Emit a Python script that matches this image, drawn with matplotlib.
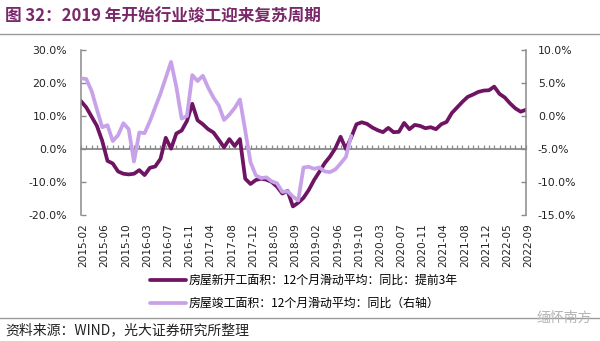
import matplotlib
matplotlib.use('Agg')
import matplotlib.pyplot as plt
import matplotlib.transforms as mtransforms
from matplotlib.lines import Line2D

plt.rcParams['font.family'] = ['Noto Sans CJK SC', 'DejaVu Sans']

# ---------------- data ----------------
# monthly categories (Jan is merged into Feb in the source statistics)
categories = []
for y in range(2015, 2023):
    for m in range(2, 13):
        if y == 2022 and m > 9:
            break
        categories.append(f'{y}-{m:02d}')

tick_labels = ['2015-02', '2015-06', '2015-10', '2016-03', '2016-07', '2016-11',
               '2017-04', '2017-08', '2017-12', '2018-05', '2018-09', '2019-02',
               '2019-06', '2019-10', '2020-03', '2020-07', '2020-11', '2021-04',
               '2021-08', '2021-12', '2022-05', '2022-09']

# 房屋新开工面积：12个月滑动平均：同比：提前3年 (left axis, %)
new_starts = [14.5, 12.6, 9.8, 7.0, 2.5, -3.6, -4.4, -6.8, -7.5, -7.7,
              -7.5, -6.4, -7.9, -5.7, -5.3, -3.0, 3.4, 0.1, 4.7, 5.6,
              8.5, 13.7, 8.7, 7.5, 6.0, 5.0, 2.8, 0.5, 3.0, 0.9,
              3.0, -9.0, -10.6, -9.4, -9.0, -9.3, -10.0, -11.4, -13.5, -12.7,
              -17.4, -16.3, -14.8, -12.4, -9.4, -6.9, -4.3, -2.3, 0.2, 3.7,
              0.0, 3.5, 7.5, 8.1, 7.6, 6.5, 5.7, 5.1, 6.4, 5.1,
              5.2, 7.9, 6.0, 7.3, 7.0, 6.3, 6.6, 6.0, 7.5, 8.2,
              10.9, 12.6, 14.3, 15.8, 16.5, 17.3, 17.7, 17.8, 18.9, 16.7,
              15.6, 13.8, 12.3, 11.3, 11.9]

# 房屋竣工面积：12个月滑动平均：同比 (right axis, %)
completions = [5.7, 5.6, 3.8, 1.0, -1.7, -1.4, -3.8, -2.9, -1.1, -2.0,
               -6.9, -2.5, -2.6, -0.8, 1.3, 3.4, 5.8, 8.2, 4.4, -0.4,
               0.0, 6.2, 5.3, 6.1, 4.3, 2.8, 1.6, -0.6, 0.2, 1.2,
               2.5, -2.2, -7.0, -9.0, -9.4, -9.3, -9.9, -10.2, -11.5, -11.4,
               -12.2, -12.8, -7.8, -7.7, -8.0, -7.8, -8.4, -8.5, -8.1, -7.2,
               -6.2, -3.0]

left_ticks = [-20, -10, 0, 10, 20, 30]
right_ticks = [-15, -10, -5, 0, 5, 10]

label_new = '房屋新开工面积：12个月滑动平均：同比：提前3年'
label_comp = '房屋竣工面积：12个月滑动平均：同比（右轴）'
title = '图 32：2019 年开始行业竣工迎来复苏周期'
source = '资料来源：WIND，光大证券研究所整理'

# ---------------- style ----------------
DARK = '#6E1463'
LIGHT = '#C8A2E8'
GRAY = '#8A8A8A'
TITLE_C = '#7A2869'

W, H = 600, 341
fig = plt.figure(figsize=(W / 100, H / 100), dpi=100)

ax = fig.add_axes([81 / W, 1 - 215 / H, (526 - 81) / W, (215 - 50) / H])
ax2 = ax.twinx()

x_new = list(range(len(new_starts)))
x_comp = list(range(len(completions)))

l1, = ax.plot(x_new, new_starts, color=DARK, lw=2.7, solid_joinstyle='round',
              solid_capstyle='round')
l2, = ax2.plot(x_comp, completions, color=LIGHT, lw=2.7, solid_joinstyle='round',
               solid_capstyle='round')

ax.set_xlim(0, len(categories) - 1)
ax.set_ylim(-20, 30)
ax2.set_ylim(-15, 10)

ax.set_yticks(left_ticks)
ax.set_yticklabels([f'{v:.1f}%' for v in left_ticks], family='DejaVu Sans',
                   fontsize=7.8, color='#222222')
ax2.set_yticks(right_ticks)
ax2.set_yticklabels([f'{v:.1f}%' for v in right_ticks], family='DejaVu Sans',
                    fontsize=7.8, color='#222222')

ax.tick_params(axis='y', direction='in', length=3.5, width=1, color=GRAY, pad=10)
ax2.tick_params(axis='y', direction='in', length=3.5, width=1, color=GRAY, pad=8.5)

tick_pos = list(range(0, len(categories), 4))
ax.set_xticks(tick_pos)
ax.set_xticklabels(tick_labels, rotation=90, family='DejaVu Sans', fontsize=7.6,
                   color='#222222')
ax.tick_params(axis='x', length=0, pad=6)
off = mtransforms.ScaledTranslation(2.5 / 100, 0, fig.dpi_scale_trans)
for lab in ax.get_xticklabels():
    lab.set_transform(lab.get_transform() + off)

for a in (ax, ax2):
    a.spines['top'].set_visible(False)
    a.spines['bottom'].set_visible(False)
    a.patch.set_visible(False)
ax.spines['left'].set_color(GRAY)
ax.spines['left'].set_linewidth(1.1)
ax.spines['right'].set_visible(False)
ax2.spines['left'].set_visible(False)
ax2.spines['right'].set_color(GRAY)
ax2.spines['right'].set_linewidth(1.1)

# category axis crossing at 0 on the left axis, with a tick per category
sec = ax.secondary_xaxis(0.4)
sec.set_xticks(x_new)
sec.tick_params(axis='x', direction='in', length=3, width=0.9, color=GRAY,
                labelbottom=False, labeltop=False)
sec.spines['bottom'].set_color(GRAY)
sec.spines['bottom'].set_linewidth(1.3)

# legend
fig.legend(handles=[l1, l2], labels=[label_new, label_comp], loc='upper left',
           bbox_to_anchor=(150 / W, 1 - 274 / H), frameon=False, fontsize=8.6,
           handlelength=3.0, handletextpad=0.25, labelspacing=0.85,
           borderpad=0, borderaxespad=0)

# title, rules, source
fig.text(5 / W, 1 - 16 / H, title, fontsize=12, fontweight='bold', color=TITLE_C,
         va='center', ha='left')
fig.add_artist(Line2D([0, 1], [1 - 34 / H, 1 - 34 / H], color='#9A9A9A', lw=1.0,
                      transform=fig.transFigure))
fig.add_artist(Line2D([0, 1], [1 - 318 / H, 1 - 318 / H], color='#9A9A9A', lw=1.0,
                      transform=fig.transFigure))
fig.text(5 / W, 1 - 330 / H, source, fontsize=10, color='#222222', va='center',
         ha='left')
fig.text(592 / W, 1 - 318 / H, '缅怀南方', fontsize=10, color='#B5B5B5',
         va='center', ha='right')

fig.savefig('out.png', dpi=100)
